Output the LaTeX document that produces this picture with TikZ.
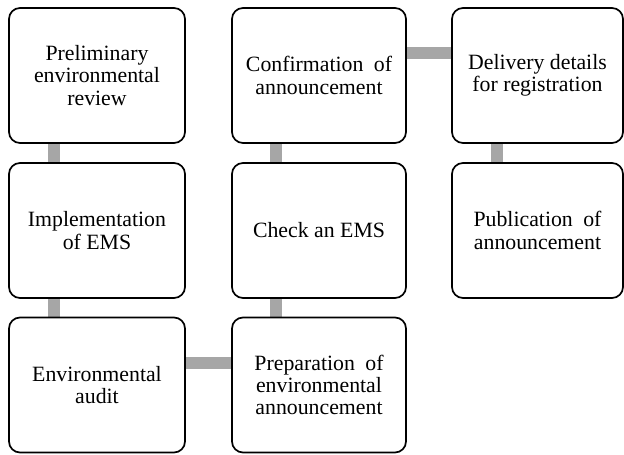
\documentclass[tikz,border=0pt]{standalone}
\usepackage{fontspec}
\setmainfont{Liberation Serif}
\usepackage{tikz}
\usetikzlibrary{positioning,calc}
\pgfdeclarelayer{bg}
\pgfsetlayers{bg,main}
\definecolor{linkgray}{RGB}{166,166,166}

\begin{document}
\begin{tikzpicture}[
			x = 1pt, y = 1pt,
			stepbox/.style = {draw, line width=1.7pt, rounded corners=11pt, fill=white,
				minimum width=176pt, minimum height=135pt, align=center, inner sep=0pt,
				font=\fontsize{21.8}{22.4}\selectfont},
			link/.style = {draw=linkgray, line width=12pt}]

			\useasboundingbox (0,0) rectangle (624,455);

			\node[stepbox] (pre) at (97,379.5) {Preliminary\\environmental\\review};
			\node[stepbox] (imp) at (97,224.5) {Implementation\\of EMS};
			\node[stepbox] (aud) at (97,70) {Environmental\\audit};

			\node[stepbox, minimum width=174pt] (prep) at (319,70) {Preparation\hspace{5pt} of\\environmental\\announcement};
			\node[stepbox, minimum width=174pt] (chk) at (319,224.5) {Check an EMS};
			\node[stepbox, minimum width=174pt] (conf) at (319,379.5) {Confirmation\hspace{5pt} of\\announcement};

			\node[stepbox, minimum width=171pt] (deliv) at (537.5,379.5) {Delivery details\\for registration};
			\node[stepbox, minimum width=171pt] (pub) at (537.5,224.5) {Publication\hspace{5pt} of\\announcement};

			\begin{pgfonlayer}{bg}
				\draw[link] ($(pre.south west)+(46,0)$) -- ($(imp.north west)+(46,0)$);
				\draw[link] ($(imp.south west)+(46,0)$) -- ($(aud.north west)+(46,0)$);
				\draw[link] ($(aud.north east)+(0,-46)$) -- ($(prep.north west)+(0,-46)$);
				\draw[link] ($(prep.north west)+(45,0)$) -- ($(chk.south west)+(45,0)$);
				\draw[link] ($(chk.north west)+(45,0)$) -- ($(conf.south west)+(45,0)$);
				\draw[link] ($(conf.north east)+(0,-46)$) -- ($(deliv.north west)+(0,-46)$);
				\draw[link] ($(deliv.south west)+(46,0)$) -- ($(pub.north west)+(46,0)$);
			\end{pgfonlayer}

		\end{tikzpicture}
\end{document}
